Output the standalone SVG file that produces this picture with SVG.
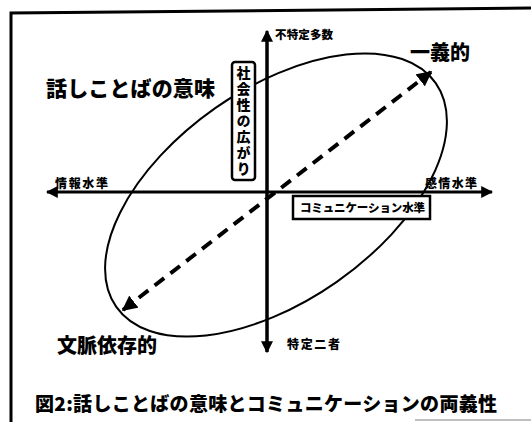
<svg xmlns="http://www.w3.org/2000/svg" width="531" height="422" viewBox="0 0 531 422">
<style>
text{font-family:"Noto Sans CJK JP","Noto Sans CJK SC",sans-serif;font-weight:900;fill:#000}
.ax{stroke:#000;stroke-width:3;fill:none}
.big{font-size:20px}
.sm{font-size:12px}
</style>
<defs>
<marker id="ah" viewBox="0 0 10 10" refX="9" refY="5" markerWidth="4" markerHeight="4" orient="auto-start-reverse" markerUnits="strokeWidth">
<path d="M0,0 L10,5 L0,10 z" fill="#000"/>
</marker>
<marker id="dh" viewBox="0 0 10 10" refX="9" refY="5" markerWidth="3.8" markerHeight="3.8" orient="auto-start-reverse" markerUnits="strokeWidth">
<path d="M0,0 L10,5 L0,10 z" fill="#000"/>
</marker>
</defs>
<rect width="531" height="422" fill="#fff"/>
<g id="frame">
<path d="M11,422 L11,13 L531,8" fill="none" stroke="#000" stroke-width="3"/>
<line x1="415" y1="420" x2="531" y2="420" stroke="#aaa" stroke-width="1.5"/>
</g>
<g id="connectors">
<line class="ax" x1="267" y1="352" x2="267" y2="31" marker-end="url(#ah)"/>
<line class="ax" x1="267" y1="40" x2="267" y2="352" marker-end="url(#ah)"/>
<line class="ax" x1="47" y1="192" x2="492" y2="192" marker-start="url(#ah)" marker-end="url(#ah)"/>
<ellipse cx="276" cy="195" rx="195" ry="106" transform="rotate(-35 276 195)" fill="none" stroke="#000" stroke-width="2"/>
<line x1="123" y1="310" x2="431" y2="72" stroke="#000" stroke-width="4" stroke-dasharray="12 8" marker-start="url(#dh)" marker-end="url(#dh)"/>
</g>
<g id="title">
<text x="46" y="96" font-size="21" textLength="169">話しことばの意味</text>
</g>
<g id="univocal">
<text class="big" x="410" y="60" textLength="60">一義的</text>
</g>
<g id="context">
<text class="big" x="57" y="353" textLength="100">文脈依存的</text>
</g>
<g id="top-label">
<text x="275" y="39" font-size="11.5" textLength="58">不特定多数</text>
</g>
<g id="bottom-label">
<text class="sm" x="287" y="349" textLength="53">特定二者</text>
</g>
<g id="left-label">
<text class="sm" x="55" y="188" textLength="53">情報水準</text>
</g>
<g id="right-label">
<text class="sm" x="425" y="188" textLength="52">感情水準</text>
</g>
<g id="comm-level">
<rect x="293" y="196" width="137" height="23" fill="#fff" stroke="#000" stroke-width="2.5"/>
<text x="300" y="212" font-size="11.5" textLength="125">コミュニケーション水準</text>
</g>
<g id="sociality">
<rect x="232" y="62" width="23" height="118" rx="3" fill="#fff" stroke="#000" stroke-width="2.5"/>
<text x="243.5" y="66" font-size="14" writing-mode="vertical-rl" letter-spacing="2">社会性の広がり</text>
</g>
<g id="caption">
<text x="35" y="411" font-size="19" textLength="462">図2:話しことばの意味とコミュニケーションの両義性</text>
</g>
</svg>
